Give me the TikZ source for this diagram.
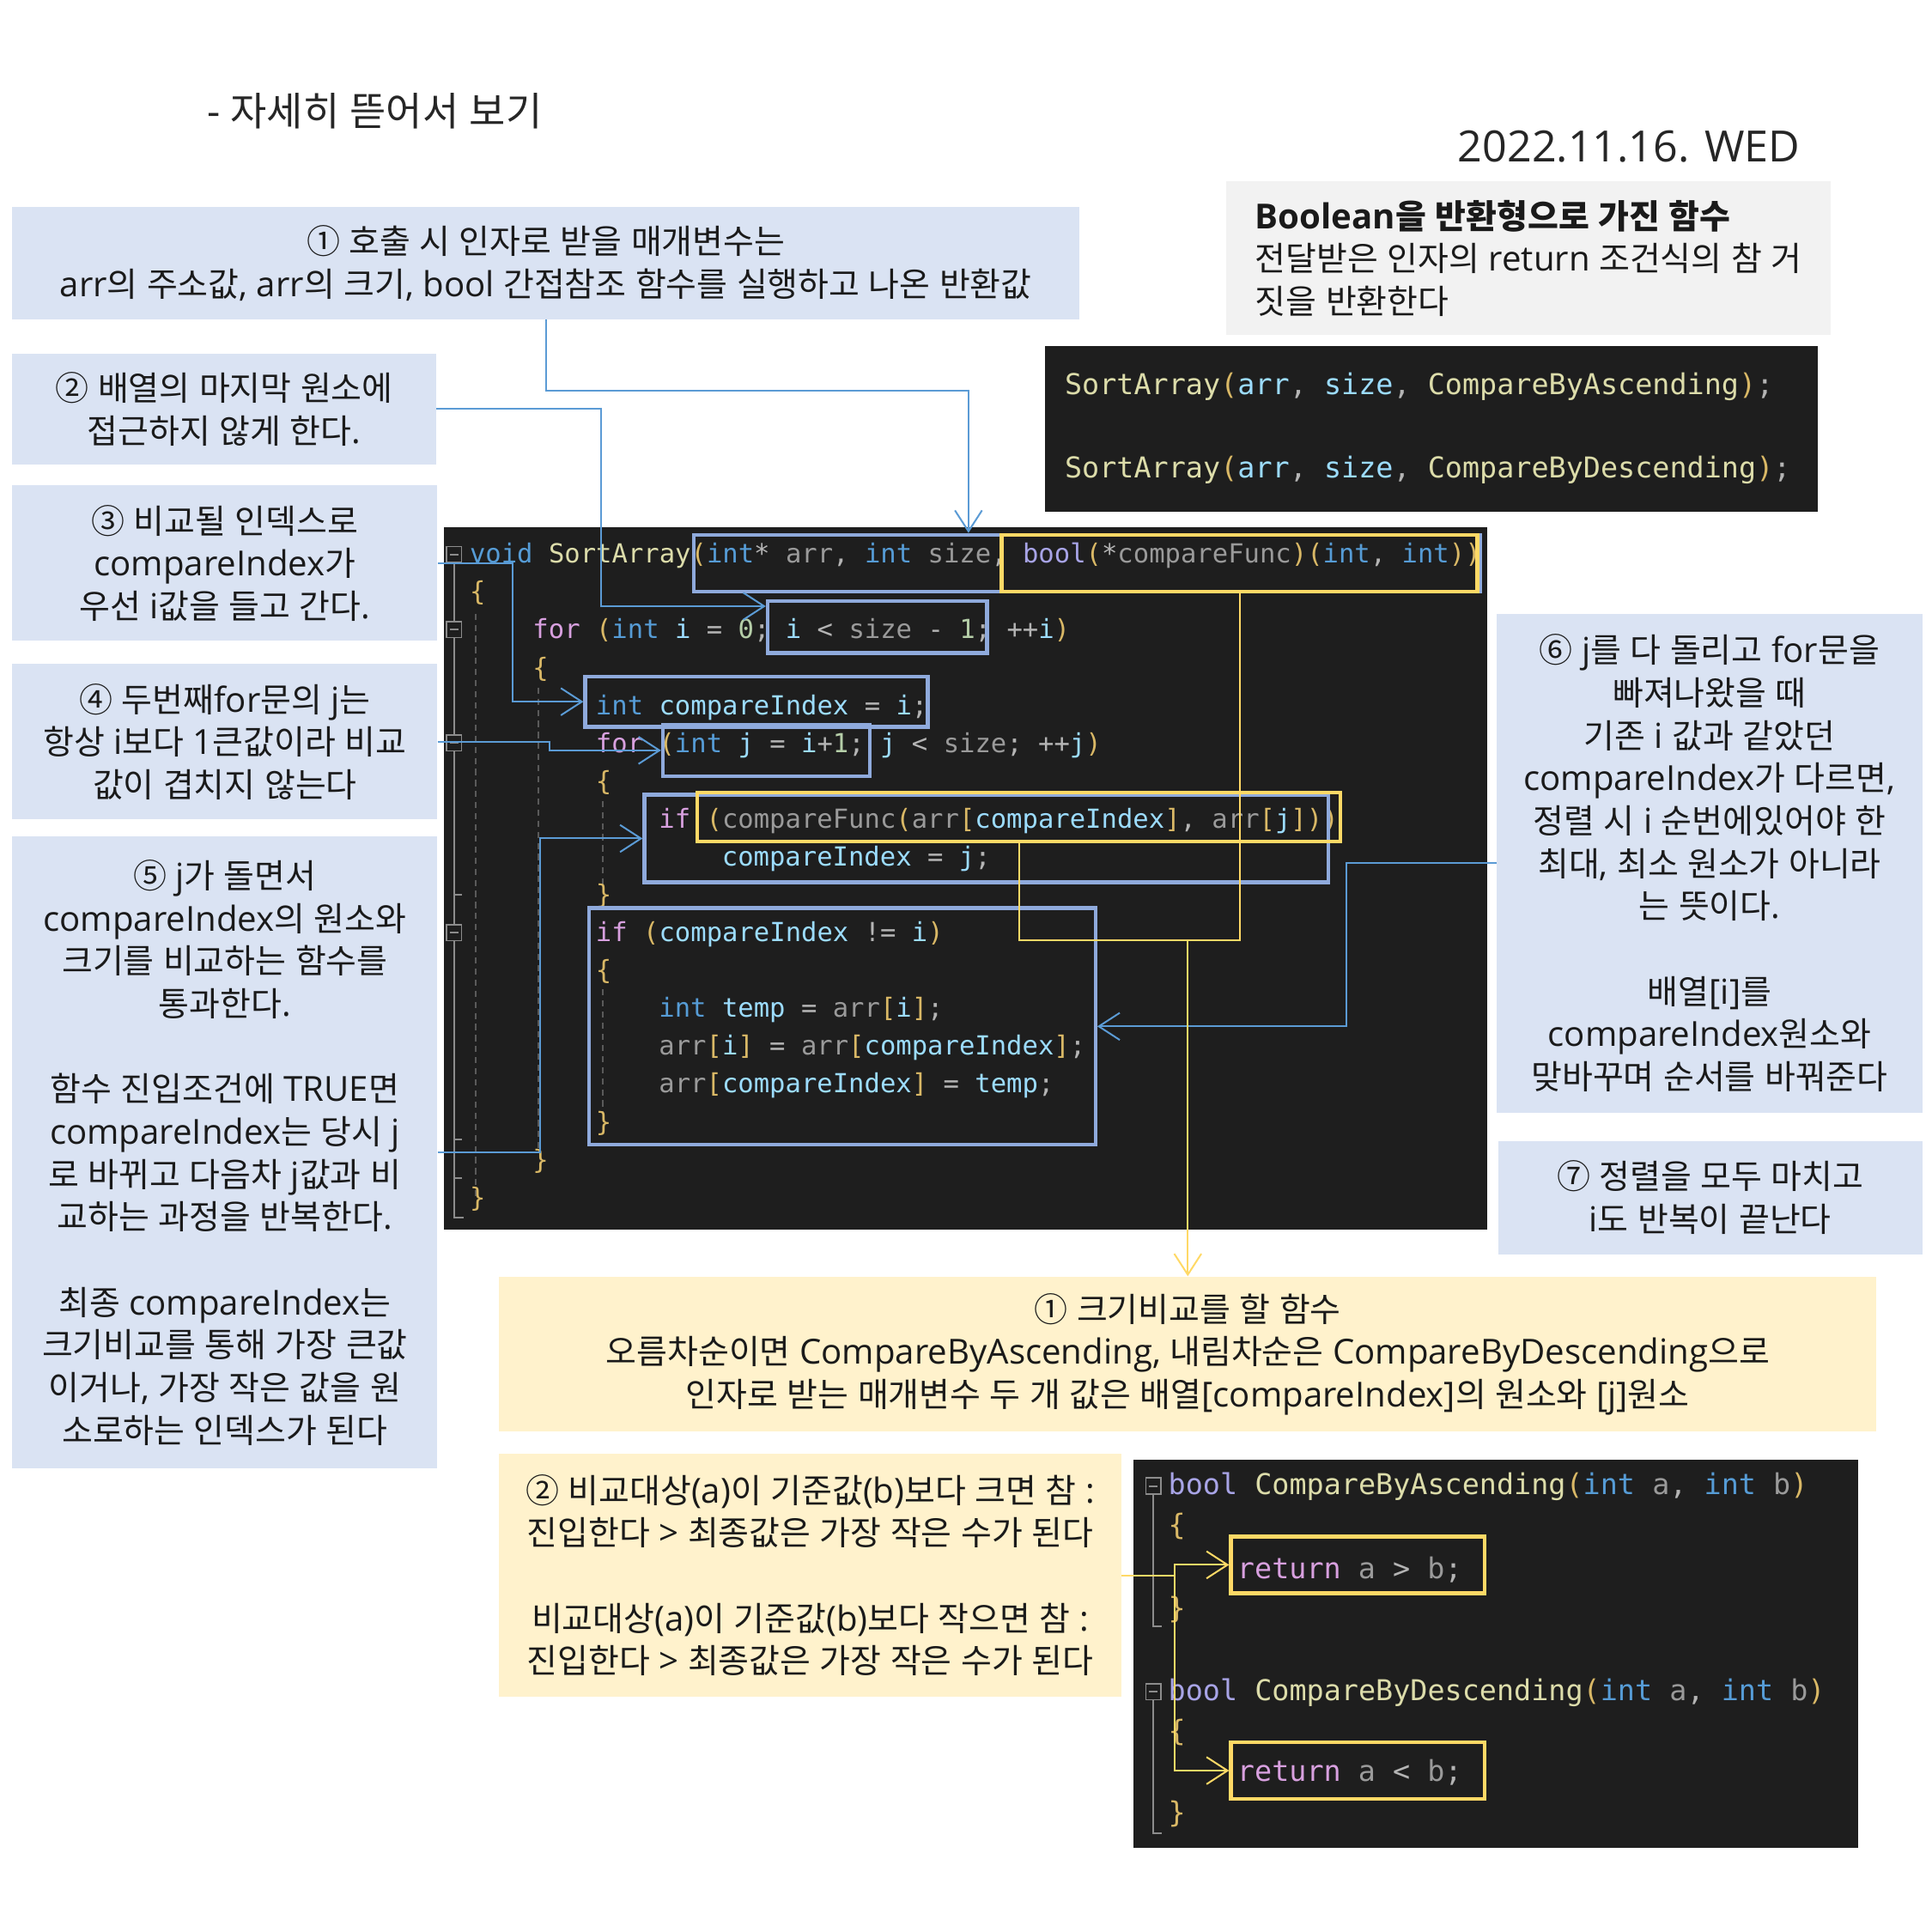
\documentclass[tikz,border=0pt]{standalone}
\usepackage{fontspec}
\usetikzlibrary{arrows.meta}
\setmainfont{Open Sans}
\newfontfamily\latfont{Open Sans}
\newfontfamily\krfont{Noto Sans CJK KR}[Scale=0.97]
\newfontfamily\codefont{DejaVu Sans Mono}
% automatic switch Latin <-> Hangul
\XeTeXinterchartokenstate=1
\chardef\krclass=7
\newcount\hgcnt
\hgcnt="AC00
\loop\XeTeXcharclass\hgcnt=\krclass\relax\ifnum\hgcnt<"D7A3 \advance\hgcnt by 1 \repeat
\hgcnt="2460
\loop\XeTeXcharclass\hgcnt=\krclass\relax\ifnum\hgcnt<"2473 \advance\hgcnt by 1 \repeat
\XeTeXinterchartoks 0 \krclass = {\krfont}
\XeTeXinterchartoks 4095 \krclass = {\krfont}
\XeTeXinterchartoks \krclass 0 = {\latfont}
\XeTeXinterchartoks \krclass 4095 = {\latfont}

\definecolor{boxblue}{HTML}{DAE3F3}
\definecolor{boxyel}{HTML}{FFF2CC}
\definecolor{boxgray}{HTML}{F2F2F2}
\definecolor{codebg}{HTML}{1E1E1E}
\definecolor{hlblue}{HTML}{8FAADC}
\definecolor{hlyel}{HTML}{FFD966}
\definecolor{cnblue}{HTML}{5B9BD5}
\definecolor{txt}{HTML}{1A1A1A}
\definecolor{gutc}{HTML}{8C8C8C}
\definecolor{guidec}{HTML}{5A5A5A}
\definecolor{ckw}{HTML}{569CD6}
\definecolor{cbool}{HTML}{A8A4E6}
\definecolor{cct}{HTML}{D8A0DF}
\definecolor{cfn}{HTML}{DCDCAA}
\definecolor{cpa}{HTML}{9A9A9A}
\definecolor{clv}{HTML}{9CDCFE}
\definecolor{cnm}{HTML}{B5CEA8}
\definecolor{cbr}{HTML}{D9B866}
\definecolor{cpun}{HTML}{B4B4B4}

\newcommand\cKw[1]{\textcolor{ckw}{#1}}
\newcommand\cBl[1]{\textcolor{cbool}{#1}}
\newcommand\cCt[1]{\textcolor{cct}{#1}}
\newcommand\cFn[1]{\textcolor{cfn}{#1}}
\newcommand\cPa[1]{\textcolor{cpa}{#1}}
\newcommand\cLv[1]{\textcolor{clv}{#1}}
\newcommand\cNm[1]{\textcolor{cnm}{#1}}
\newcommand\cBr[1]{\textcolor{cbr}{#1}}

\tikzset{
  txtbox/.style={inner sep=0pt, align=center, text=txt, font=\fontsize{28}{34.6}\selectfont},
  bluebox/.style={txtbox, fill=boxblue},
  yelbox/.style={txtbox, fill=boxyel},
  graybox/.style={txtbox, fill=boxgray, align=left},
  codepanel/.style={fill=codebg, inner sep=0pt},
  hlb/.style={draw=hlblue, line width=3pt, inner sep=0pt},
  hly/.style={draw=hlyel, line width=3pt, inner sep=0pt},
  bcon/.style={draw=cnblue, line width=1.4pt},
  ycon/.style={draw=hlyel, line width=1.4pt},
  tip/.style={-{Straight Barb[length=17pt,width=22pt]}},
  cl/.style={anchor=base west, inner sep=0pt, text=cpun, font=\codefont\fontsize{21.3}{25}\selectfont},
  clb/.style={anchor=base west, inner sep=0pt, text=cpun, font=\codefont\fontsize{23.3}{28}\selectfont},
  foldbox/.style={draw=gutc, line width=1.2pt, fill=codebg, minimum width=12pt, minimum height=13pt, inner sep=0pt,
    path picture={\draw[gutc, line width=1.4pt] ([xshift=-3.5pt]path picture bounding box.center) -- ([xshift=3.5pt]path picture bounding box.center);}},
  gut/.style={draw=gutc, line width=1.4pt},
  guide/.style={draw=guidec, line width=1.2pt, dash pattern=on 5pt off 4pt},
}

\begin{document}
\begin{tikzpicture}[x=1pt,y=-1pt]
\useasboundingbox (0,0) rectangle (1568,1568);
\fill[white] (0,0) rectangle (1568,1568);

% titles
\node[inner sep=0pt, text=black!85, font=\fontsize{33}{40}\selectfont] (title) at (304,90) {- 자세히 뜯어서 보기};
\node[inner sep=0pt, text=black!85, font=\fontsize{35}{40}\selectfont] (date) at (1322,119) {2022.11.16. WED};

% ---------- main code panel ----------
\node[codepanel, minimum width=847pt, minimum height=570pt] (code) at (783.5,713) {};
% gutter
\draw[gut] (368.5,457) -- (368.5,988) -- (376,988);
\draw[gut] (368.5,726) -- (375,726);
\draw[gut] (368.5,925) -- (375,925);
\draw[gut] (368.5,956) -- (375,956);
\draw[guide] (386,498) -- (386,972);
\draw[guide] (437,558) -- (437,932);
\draw[guide] (489,650) -- (489,718);
\draw[guide] (489,803) -- (489,903);
\node[foldbox] (fd1) at (368.5,450) {};
\node[foldbox] (fd2) at (368.5,511) {};
\node[foldbox] (fd3) at (368.5,603) {};
\node[foldbox] (fd4) at (368.5,757) {};

\node[cl] (m1) at (381,457) {\cKw{void} \cFn{SortArray}\cBr{(}\cKw{int}* \cPa{arr}, \cKw{int} \cPa{size}, \cBl{bool}\cBr{(}*\cPa{compareFunc}\cBr{)}\cBr{(}\cKw{int}, \cKw{int}\cBr{)}\cBr{)}};
\node[cl] (m2) at (381,487.7) {\cBr{\{}};
\node[cl] (m3) at (432.2,518.4) {\cCt{for} \cBr{(}\cKw{int} \cLv{i} = \cNm{0}; \cLv{i} < \cPa{size} - \cNm{1}; ++\cLv{i}\cBr{)}};
\node[cl] (m4) at (432.2,549.2) {\cBr{\{}};
\node[cl] (m5) at (483.4,579.9) {\cKw{int} \cLv{compareIndex} = \cLv{i};};
\node[cl] (m6) at (483.4,610.6) {\cCt{for} \cBr{(}\cKw{int} \cLv{j} = \cLv{i}+\cNm{1}; \cLv{j} < \cPa{size}; ++\cLv{j}\cBr{)}};
\node[cl] (m7) at (483.4,641.3) {\cBr{\{}};
\node[cl] (m8) at (534.6,672.0) {\cCt{if} \cBr{(}\cPa{compareFunc}\cBr{(}\cPa{arr}\cBr{[}\cLv{compareIndex}\cBr{]}, \cPa{arr}\cBr{[}\cLv{j}\cBr{]}\cBr{)}\cBr{)}};
\node[cl] (m9) at (585.8,702.8) {\cLv{compareIndex} = \cLv{j};};
\node[cl] (m10) at (483.4,733.5) {\cBr{\}}};
\node[cl] (m11) at (483.4,764.2) {\cCt{if} \cBr{(}\cLv{compareIndex} != \cLv{i}\cBr{)}};
\node[cl] (m12) at (483.4,794.9) {\cBr{\{}};
\node[cl] (m13) at (534.6,825.6) {\cKw{int} \cLv{temp} = \cPa{arr}\cBr{[}\cLv{i}\cBr{]};};
\node[cl] (m14) at (534.6,856.4) {\cPa{arr}\cBr{[}\cLv{i}\cBr{]} = \cPa{arr}\cBr{[}\cLv{compareIndex}\cBr{]};};
\node[cl] (m15) at (534.6,887.1) {\cPa{arr}\cBr{[}\cLv{compareIndex}\cBr{]} = \cLv{temp};};
\node[cl] (m16) at (483.4,917.8) {\cBr{\}}};
\node[cl] (m17) at (432.2,948.5) {\cBr{\}}};
\node[cl] (m18) at (381,979.2) {\cBr{\}}};

% highlight boxes in main code
\node[hlb, minimum width=638pt, minimum height=46pt] (hB1) at (882,457) {};
\node[hly, minimum width=386pt, minimum height=46pt] (hY1) at (1006,457) {};
\node[hlb, minimum width=178pt, minimum height=42pt] (hB2) at (712,509) {};
\node[hlb, minimum width=278pt, minimum height=41pt] (hB3) at (614,569.5) {};
\node[hlb, minimum width=168pt, minimum height=42pt] (hB4) at (622,609) {};
\node[hlb, minimum width=555pt, minimum height=71pt] (hB5) at (800.5,680.5) {};
\node[hly, minimum width=522pt, minimum height=40pt] (hY2) at (827,663) {};
\node[hlb, minimum width=411pt, minimum height=192pt] (hB6) at (683.5,833) {};

% ---------- top-right code panel ----------
\node[codepanel, minimum width=627pt, minimum height=134pt] (call) at (1161.5,348) {};
\node[clb] (t1) at (864,320) {\cFn{SortArray}\cBr{(}\cLv{arr}, \cLv{size}, \cFn{CompareByAscending}\cBr{)};};
\node[clb] (t2) at (864,388) {\cFn{SortArray}\cBr{(}\cLv{arr}, \cLv{size}, \cFn{CompareByDescending}\cBr{)};};

% ---------- bottom code panel ----------
\node[codepanel, minimum width=588pt, minimum height=315pt] (cmp) at (1214,1342.5) {};
\draw[gut] (936,1213) -- (936,1320) -- (943,1320);
\draw[gut] (936,1380) -- (936,1488) -- (943,1488);
\node[foldbox] (fd5) at (936,1206) {};
\node[foldbox] (fd6) at (936,1373) {};
\node[clb] (k1) at (948,1213) {\cBl{bool} \cFn{CompareByAscending}\cBr{(}\cKw{int} \cPa{a}, \cKw{int} \cPa{b}\cBr{)}};
\node[clb] (k2) at (948,1246) {\cBr{\{}};
\node[clb] (k3) at (1004,1281) {\cCt{return} \cPa{a} > \cPa{b};};
\node[clb] (k4) at (948,1313) {\cBr{\}}};
\node[clb] (k5) at (948,1380) {\cBl{bool} \cFn{CompareByDescending}\cBr{(}\cKw{int} \cPa{a}, \cKw{int} \cPa{b}\cBr{)}};
\node[clb] (k6) at (948,1413) {\cBr{\{}};
\node[clb] (k7) at (1004,1446) {\cCt{return} \cPa{a} < \cPa{b};};
\node[clb] (k8) at (948,1479) {\cBr{\}}};
\node[hly, minimum width=206pt, minimum height=46pt] (hY3) at (1102,1270) {};
\node[hly, minimum width=206pt, minimum height=46pt] (hY4) at (1102,1437) {};

% ---------- text boxes ----------
\node[bluebox, minimum width=866pt, minimum height=91pt] (b1) at (443,213.5)
  {① 호출 시 인자로 받을 매개변수는\\arr의 주소값, arr의 크기, bool 간접참조 함수를 실행하고 나온 반환값};
\node[bluebox, minimum width=344pt, minimum height=90pt] (b2) at (182,332)
  {② 배열의 마지막 원소에\\접근하지 않게 한다.};
\node[bluebox, minimum width=345pt, minimum height=126pt] (b3) at (182.5,457)
  {③ 비교될 인덱스로\\compareIndex가\\우선 i값을 들고 간다.};
\node[bluebox, minimum width=345pt, minimum height=126pt] (b4) at (182.5,602)
  {④ 두번째for문의 j는\\항상 i보다 1큰값이라 비교\\값이 겹치지 않는다};
\node[bluebox, minimum width=345pt, minimum height=513pt] (b5) at (182.5,935.5)
  {⑤ j가 돌면서\\compareIndex의 원소와\\크기를 비교하는 함수를\\통과한다.\\[34.6pt]함수 진입조건에 TRUE면\\compareIndex는 당시 j\\로 바뀌고 다음차 j값과 비\\교하는 과정을 반복한다.\\[34.6pt]최종 compareIndex는\\크기비교를 통해 가장 큰값\\이거나, 가장 작은 값을 원\\소로하는 인덱스가 된다};
\node[graybox, minimum width=491pt, minimum height=125pt] (bg) at (1240.5,209.5)
  {{\bfseries Boolean을 반환형으로 가진 함수}\\전달받은 인자의 return 조건식의 참 거\\짓을 반환한다};
\node[bluebox, minimum width=345pt, minimum height=405pt] (b6) at (1387.5,700.5)
  {⑥ j를 다 돌리고 for문을\\빠져나왔을 때\\기존 i 값과 같았던\\compareIndex가 다르면,\\정렬 시 i 순번에있어야 한\\최대, 최소 원소가 아니라\\는 뜻이다.\\[34.6pt]배열[i]를\\compareIndex원소와\\맞바꾸며 순서를 바꿔준다};
\node[bluebox, minimum width=344pt, minimum height=92pt] (b7) at (1388,972)
  {⑦ 정렬을 모두 마치고\\i도 반복이 끝난다};
\node[yelbox, minimum width=1118pt, minimum height=126pt] (y1) at (964,1099)
  {① 크기비교를 할 함수\\오름차순이면 CompareByAscending, 내림차순은 CompareByDescending으로\\인자로 받는 매개변수 두 개 값은 배열[compareIndex]의 원소와 [j]원소};
\node[yelbox, minimum width=505pt, minimum height=197pt] (y2) at (657.5,1278.5)
  {② 비교대상(a)이 기준값(b)보다 크면 참 :\\진입한다 > 최종값은 가장 작은 수가 된다\\[34.6pt]비교대상(a)이 기준값(b)보다 작으면 참 :\\진입한다 > 최종값은 가장 작은 수가 된다};

% ---------- connectors ----------
\coordinate (c1a) at (786,317);
\draw[bcon, tip] (b1.south) |- (c1a) -- (c1a |- hB1.north);
\coordinate (c2a) at (488,492);
\draw[bcon, tip] (b2.east) -| (c2a) -- (c2a -| hB2.west);
\coordinate (c3a) at (416,569.5);
\draw[bcon, tip] (b3.east) -| (c3a) -- (hB3.west);
\coordinate (c4a) at (446,609);
\draw[bcon, tip] (b4.east) -| (c4a) -- (hB4.west);
\coordinate (c5a) at (438,680.5);
\draw[bcon, tip] (b5.east) -| (c5a) -- (hB5.west);
\coordinate (c6a) at (1093,833);
\draw[bcon, tip] (b6.west) -| (c6a) -- (hB6.east);

\coordinate (yj) at (964,763);
\draw[ycon] (hY2.south) |- (yj);
\draw[ycon] (hY1.south) |- (yj);
\draw[ycon, tip] (yj) -- (y1.north);
\coordinate (yk) at (953,1278.5);
\draw[ycon] (y2.east) -- (yk);
\draw[ycon, tip] (yk) |- (hY3.west);
\draw[ycon, tip] (yk) |- (hY4.west);
\end{tikzpicture}
\end{document}
